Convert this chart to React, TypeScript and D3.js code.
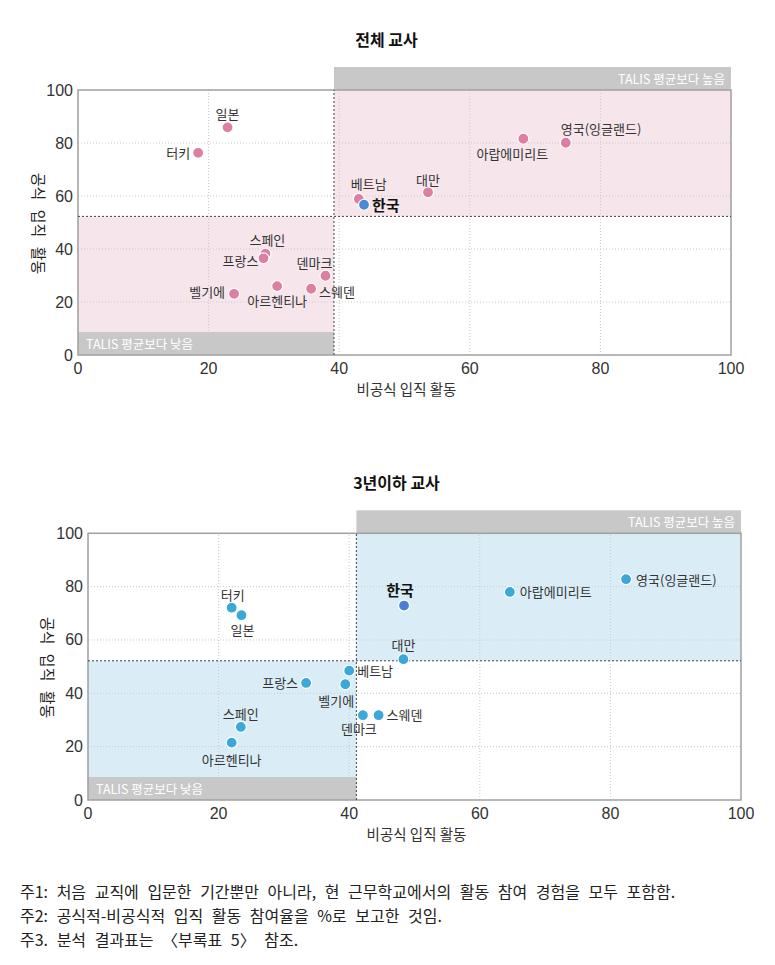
import React from "react";
import * as d3 from "d3";

// ---------- DATA ----------
const countries = ["일본", "터키", "베트남", "한국", "스페인", "프랑스", "덴마크", "아르헨티나", "스웨덴", "벨기에", "대만", "아랍에미리트", "영국(잉글랜드)"];

// 전체 교사
const informalAll = [22.9, 18.4, 43.0, 43.8, 28.7, 28.4, 37.9, 30.5, 35.7, 23.9, 53.6, 68.2, 74.7];
const formalAll = [85.9, 76.3, 58.9, 56.7, 38.2, 36.5, 29.9, 26.0, 25.0, 23.1, 61.4, 81.6, 80.1];
const talisAll = { x: 39.2, y: 52.3 };

// 3년이하 교사
const informalNew = [23.5, 22.0, 40.0, 48.4, 23.4, 33.4, 42.1, 22.0, 44.5, 39.4, 48.3, 64.6, 82.4];
const formalNew = [69.3, 72.1, 48.5, 72.9, 27.4, 43.9, 31.8, 21.5, 31.8, 43.4, 52.8, 78.0, 82.8];
const talisNew = { x: 41.1, y: 52.2 };

const ticks = [0, 20, 40, 60, 80, 100];
const titles = ["전체 교사", "3년이하 교사"];
const xAxisLabel = "비공식 입직 활동";
const yAxisLabel = "공식 입직 활동";
const highLabel = "TALIS 평균보다 높음";
const lowLabel = "TALIS 평균보다 낮음";
const notes = [
  "주1: 처음 교직에 입문한 기간뿐만 아니라, 현 근무학교에서의 활동 참여 경험을 모두 포함함.",
  "주2: 공식적-비공식적 입직 활동 참여율을 %로 보고한 것임.",
  "주3. 분석 결과표는 〈부록표 5〉 참조.",
];

// ---------- LABEL PLACEMENT (layout only) ----------
type Place = { dx: number; dy: number; anchor: "start" | "middle" | "end" };
const placeAll: Place[] = [
  { dx: 0, dy: -14, anchor: "middle" },
  { dx: -8, dy: 0, anchor: "end" },
  { dx: 10, dy: -15, anchor: "middle" },
  { dx: 8, dy: 0, anchor: "start" },
  { dx: 2, dy: -14, anchor: "middle" },
  { dx: -5, dy: 2, anchor: "end" },
  { dx: -11, dy: -13, anchor: "middle" },
  { dx: 0, dy: 14, anchor: "middle" },
  { dx: 8, dy: 3, anchor: "start" },
  { dx: -9, dy: -2, anchor: "end" },
  { dx: 0, dy: -13, anchor: "middle" },
  { dx: -11, dy: 15, anchor: "middle" },
  { dx: -5, dy: -14, anchor: "start" },
];
const placeNew: Place[] = [
  { dx: 1, dy: 14, anchor: "middle" },
  { dx: 1, dy: -13, anchor: "middle" },
  { dx: 8, dy: 0, anchor: "start" },
  { dx: -4, dy: -16, anchor: "middle" },
  { dx: 0, dy: -13, anchor: "middle" },
  { dx: -8, dy: 0, anchor: "end" },
  { dx: -4, dy: 13, anchor: "middle" },
  { dx: 0, dy: 17, anchor: "middle" },
  { dx: 8, dy: -1, anchor: "start" },
  { dx: -9, dy: 16, anchor: "middle" },
  { dx: 0, dy: -15, anchor: "middle" },
  { dx: 10, dy: 0, anchor: "start" },
  { dx: 10, dy: 0, anchor: "start" },
];

const KFONT = "'Noto Sans CJK KR', 'Noto Sans', sans-serif";
const NFONT = "'Liberation Sans Narrow', 'Liberation Sans', Arial, sans-serif";

type ChartProps = {
  title: string;
  titleY: number;
  x0: number;
  x1: number;
  y0: number; // pixel for value 0
  y1: number; // pixel for value 100
  xs: number[];
  ys: number[];
  avg: { x: number; y: number };
  place: Place[];
  quadFill: string;
  dotFill: string;
  koreaFill: string;
  yLabelX: number;
};

function Chart(p: ChartProps) {
  const x = d3.scaleLinear().domain([0, 100]).range([p.x0, p.x1]);
  const y = d3.scaleLinear().domain([0, 100]).range([p.y0, p.y1]);
  const ax = x(p.avg.x);
  const ay = y(p.avg.y);
  const bandH = 23;
  const grey = "#c8c8c8";
  return (
    <g>
      <text x={(p.x0 + p.x1) / 2 - 18} y={p.titleY} textAnchor="middle" fontFamily={KFONT} fontWeight={700} fontSize={16} fill="#111">
        {p.title}
      </text>
      {/* quadrants */}
      <rect x={ax} y={p.y1} width={p.x1 - ax} height={ay - p.y1} fill={p.quadFill} />
      <rect x={p.x0} y={ay} width={ax - p.x0} height={p.y0 - ay} fill={p.quadFill} />
      {/* grey bands */}
      <rect x={ax} y={p.y1 - bandH} width={p.x1 - ax} height={bandH} fill={grey} />
      <rect x={p.x0} y={p.y0 - bandH} width={ax - p.x0} height={bandH} fill={grey} />
      <text x={p.x1 - 6} y={p.y1 - bandH / 2} dominantBaseline="central" textAnchor="end" fontFamily={KFONT} fontSize={12.5} fill="#fff">
        {highLabel}
      </text>
      <text x={p.x0 + 8} y={p.y0 - bandH / 2} dominantBaseline="central" textAnchor="start" fontFamily={KFONT} fontSize={12.5} fill="#fff">
        {lowLabel}
      </text>
      {/* grid */}
      {ticks.slice(1, -1).map((t) => (
        <g key={"g" + t}>
          <line x1={x(t)} x2={x(t)} y1={p.y0} y2={p.y1} stroke="#c8c8c8" strokeDasharray="1,2" />
          <line x1={p.x0} x2={p.x1} y1={y(t)} y2={y(t)} stroke="#c8c8c8" strokeDasharray="1,2" />
        </g>
      ))}
      {/* border */}
      <rect x={p.x0} y={p.y1} width={p.x1 - p.x0} height={p.y0 - p.y1} fill="none" stroke="#a0a0a0" strokeWidth={1.5} />
      {/* average lines */}
      <line x1={ax} x2={ax} y1={p.y0} y2={p.y1} stroke="#444" strokeDasharray="2,2" strokeWidth={1} />
      <line x1={p.x0} x2={p.x1} y1={ay} y2={ay} stroke="#444" strokeDasharray="2,2" strokeWidth={1} />
      {/* ticks */}
      {ticks.map((t) => (
        <g key={"t" + t}>
          <text x={p.x0 - 5} y={y(t)} textAnchor="end" dominantBaseline="central" fontFamily={NFONT} fontSize={16} fill="#333">
            {t}
          </text>
          <text x={x(t)} y={p.y0 + 13} textAnchor="middle" dominantBaseline="central" fontFamily={NFONT} fontSize={16} fill="#333">
            {t}
          </text>
        </g>
      ))}
      {/* axis labels */}
      <text x={(p.x0 + p.x1) / 2 + 2} y={p.y0 + 33} textAnchor="middle" dominantBaseline="central" fontFamily={KFONT} fontSize={14.5} fill="#333">
        {xAxisLabel}
      </text>
      <text
        transform={`translate(${p.yLabelX},${(p.y0 + p.y1) / 2 + 1}) rotate(90)`}
        textAnchor="middle"
        dominantBaseline="central"
        fontFamily={KFONT}
        fontSize={15}
        wordSpacing={6}
        fill="#222"
      >
        {yAxisLabel}
      </text>
      {/* points */}
      {countries.map((c, i) => {
        const kr = c === "한국";
        return (
          <circle key={"p" + c} cx={x(p.xs[i])} cy={y(p.ys[i])} r={5.5} fill={kr ? p.koreaFill : p.dotFill} stroke="#fff" strokeWidth={1.2} />
        );
      })}
      {countries.map((c, i) => {
        const kr = c === "한국";
        const pl = p.place[i];
        return (
          <text
            key={"l" + c}
            x={x(p.xs[i]) + pl.dx}
            y={y(p.ys[i]) + pl.dy}
            textAnchor={pl.anchor}
            dominantBaseline="central"
            fontFamily={KFONT}
            fontSize={kr ? 15 : 13}
            fontWeight={kr ? 700 : 400}
            fill={kr ? "#111" : "#333"}
          >
            {c}
          </text>
        );
      })}
    </g>
  );
}

export default function App() {
  return (
    <svg width={775} height={965} style={{ position: "absolute", left: 0, top: 0, background: "#fff" }}>
      <rect x={0} y={0} width={775} height={965} fill="#fff" />
      <Chart
        title={titles[0]}
        titleY={46}
        x0={78}
        x1={731}
        y0={355}
        y1={90}
        xs={informalAll}
        ys={formalAll}
        avg={talisAll}
        place={placeAll}
        quadFill="#f6e6ec"
        dotFill="#dc7fa2"
        koreaFill="#4a8ad4"
        yLabelX={39}
      />
      <Chart
        title={titles[1]}
        titleY={489}
        x0={88}
        x1={741}
        y0={800}
        y1={533.3}
        xs={informalNew}
        ys={formalNew}
        avg={talisNew}
        place={placeNew}
        quadFill="#daedf6"
        dotFill="#3ba8d8"
        koreaFill="#4a80cf"
        yLabelX={48}
      />
      {notes.map((n, i) => (
        <text key={"n" + i} x={20} y={898 + i * 24} fontFamily={KFONT} fontSize={16} wordSpacing={5} fill="#222">
          {n}
        </text>
      ))}
    </svg>
  );
}
